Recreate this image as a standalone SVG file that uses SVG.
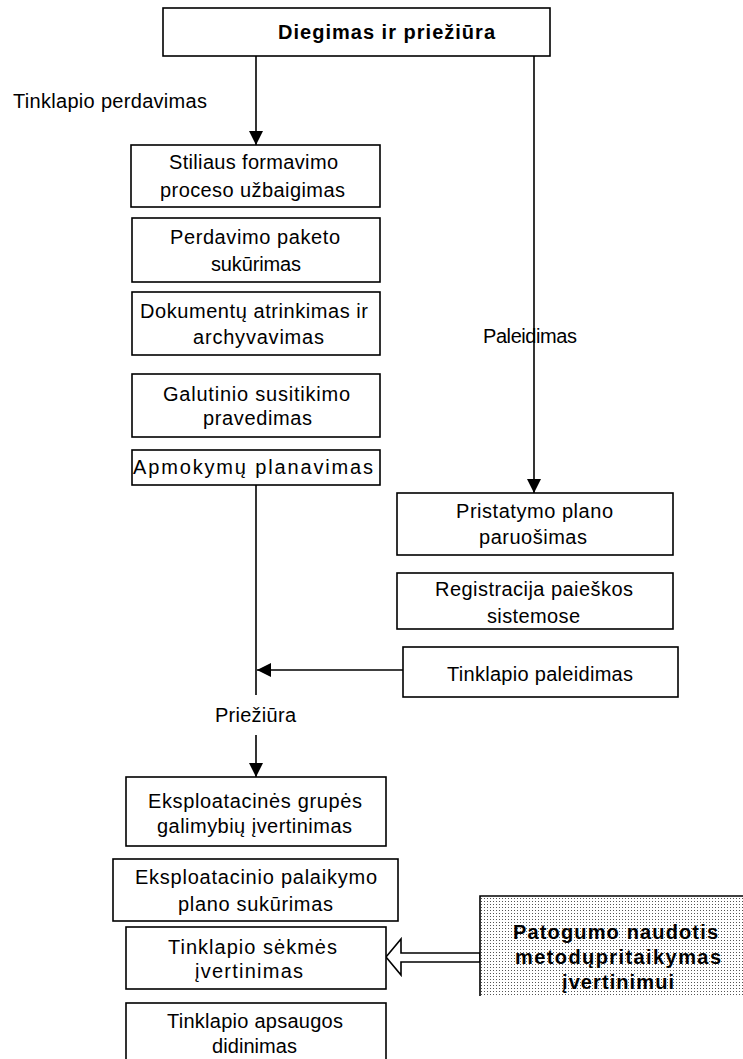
<svg xmlns="http://www.w3.org/2000/svg" width="743" height="1059" viewBox="0 0 743 1059">
  <style>
    .box { fill: #ffffff; stroke: #000000; stroke-width: 1.6; }
    .lbl { font-family: "Liberation Sans", Arial, sans-serif; font-size: 20px; fill: #000000; }
    .bold { font-weight: bold; }
    .conn { stroke: #000000; stroke-width: 1.6; fill: none; }
  </style>
  <defs>
    <marker id="arrow" markerWidth="14" markerHeight="14" refX="14" refY="7" viewBox="0 0 14 14" orient="auto" markerUnits="userSpaceOnUse">
      <path d="M0,0 L14,7 L0,14 Z" fill="#000000"/>
    </marker>
    <pattern id="dots" width="3" height="3" patternUnits="userSpaceOnUse">
      <rect width="3" height="3" fill="#ffffff"/>
      <rect x="1" y="1" width="1" height="1" fill="#555555"/>
    </pattern>
  </defs>

  <!-- connectors -->
  <g id="connectors">
    <line class="conn" x1="256" y1="56" x2="256" y2="145" marker-end="url(#arrow)"/>
    <line class="conn" x1="534" y1="56" x2="534" y2="493" marker-end="url(#arrow)"/>
    <line class="conn" x1="256" y1="485" x2="256" y2="695"/>
    <line class="conn" x1="403" y1="670" x2="257" y2="670" marker-end="url(#arrow)"/>
    <line class="conn" x1="256" y1="735" x2="256" y2="777" marker-end="url(#arrow)"/>
    <polygon class="box" points="386,957 401,939 401,953 480,953 480,962 401,962 401,975"/>
  </g>

  <!-- section labels -->
  <g id="labels">
    <text class="lbl" x="13" y="108" textLength="194" lengthAdjust="spacing">Tinklapio perdavimas</text>
    <text class="lbl" x="483" y="343" textLength="94" lengthAdjust="spacing">Paleidimas</text>
    <text class="lbl" x="215" y="722" textLength="81" lengthAdjust="spacing">Priežiūra</text>
  </g>

  <g id="n-title">
    <rect class="box" x="163" y="8" width="387" height="48"/>
    <text class="lbl bold" x="278" y="39" textLength="217" lengthAdjust="spacing">Diegimas ir priežiūra</text>
  </g>

  <g id="n-stilius">
    <rect class="box" x="131" y="145" width="249" height="62"/>
    <text class="lbl" x="169" y="169" textLength="169" lengthAdjust="spacing">Stiliaus formavimo</text>
    <text class="lbl" x="160" y="197" textLength="185" lengthAdjust="spacing">proceso užbaigimas</text>
  </g>

  <g id="n-perdavimo">
    <rect class="box" x="132" y="218" width="248" height="64"/>
    <text class="lbl" x="170" y="244" textLength="170" lengthAdjust="spacing">Perdavimo paketo</text>
    <text class="lbl" x="211" y="271" textLength="90" lengthAdjust="spacing">sukūrimas</text>
  </g>

  <g id="n-dokumentu">
    <rect class="box" x="132" y="292" width="248" height="63"/>
    <text class="lbl" x="140" y="318" textLength="228" lengthAdjust="spacing">Dokumentų atrinkimas ir</text>
    <text class="lbl" x="193" y="344" textLength="131" lengthAdjust="spacing">archyvavimas</text>
  </g>

  <g id="n-galutinio">
    <rect class="box" x="132" y="374" width="248" height="63"/>
    <text class="lbl" x="163" y="401" textLength="187" lengthAdjust="spacing">Galutinio  susitikimo</text>
    <text class="lbl" x="203" y="425" textLength="109" lengthAdjust="spacing">pravedimas</text>
  </g>

  <g id="n-apmokymu">
    <rect class="box" x="132" y="450" width="248" height="35"/>
    <text class="lbl" x="133" y="474" textLength="240" lengthAdjust="spacing">Apmokymų planavimas</text>
  </g>

  <g id="n-pristatymo">
    <rect class="box" x="397" y="493" width="276" height="62"/>
    <text class="lbl" x="456" y="518" textLength="157" lengthAdjust="spacing">Pristatymo plano</text>
    <text class="lbl" x="479" y="544" textLength="108" lengthAdjust="spacing">paruošimas</text>
  </g>

  <g id="n-registracija">
    <rect class="box" x="397" y="573" width="276" height="56"/>
    <text class="lbl" x="435" y="596" textLength="198" lengthAdjust="spacing">Registracija paieškos</text>
    <text class="lbl" x="487" y="623" textLength="93" lengthAdjust="spacing">sistemose</text>
  </g>

  <g id="n-paleidimas">
    <rect class="box" x="403" y="647" width="275" height="50"/>
    <text class="lbl" x="447" y="681" textLength="186" lengthAdjust="spacing">Tinklapio  paleidimas</text>
  </g>

  <g id="n-grupes">
    <rect class="box" x="126" y="777" width="260" height="69"/>
    <text class="lbl" x="148" y="808" textLength="214" lengthAdjust="spacing">Eksploatacinės grupės</text>
    <text class="lbl" x="157" y="833" textLength="195" lengthAdjust="spacing">galimybių įvertinimas</text>
  </g>

  <g id="n-palaikymo">
    <rect class="box" x="113" y="859" width="285" height="62"/>
    <text class="lbl" x="135" y="884" textLength="242" lengthAdjust="spacing">Eksploatacinio  palaikymo</text>
    <text class="lbl" x="178" y="911" textLength="155" lengthAdjust="spacing">plano sukūrimas</text>
  </g>

  <g id="n-sekmes">
    <rect class="box" x="126" y="927" width="260" height="62"/>
    <text class="lbl" x="168" y="954" textLength="169" lengthAdjust="spacing">Tinklapio  sėkmės</text>
    <text class="lbl" x="195" y="978" textLength="108" lengthAdjust="spacing">įvertinimas</text>
  </g>

  <g id="n-apsaugos">
    <rect class="box" x="126" y="1003" width="260" height="70"/>
    <text class="lbl" x="167" y="1028" textLength="176" lengthAdjust="spacing">Tinklapio apsaugos</text>
    <text class="lbl" x="212" y="1053" textLength="85" lengthAdjust="spacing">didinimas</text>
  </g>

  <g id="n-patogumo">
    <rect x="480" y="896" width="270" height="100" fill="url(#dots)"/>
    <path class="conn" d="M480,996 L480,896 L750,896"/>
    <text class="lbl bold" x="513" y="939" textLength="205" lengthAdjust="spacing">Patogumo naudotis</text>
    <text class="lbl bold" x="515" y="964" textLength="206" lengthAdjust="spacing">metodųpritaikymas</text>
    <text class="lbl bold" x="562" y="989" textLength="112" lengthAdjust="spacing">įvertinimui</text>
  </g>
</svg>
